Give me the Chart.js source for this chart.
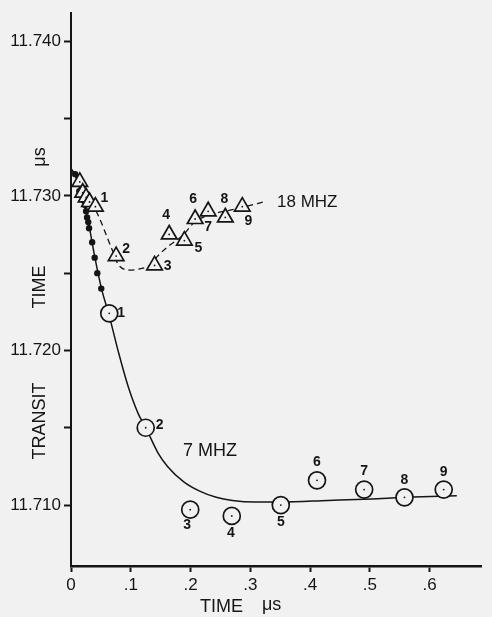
<!DOCTYPE html>
<html><head><meta charset="utf-8">
<script src="https://cdn.jsdelivr.net/npm/chart.js@4/dist/chart.umd.min.js"></script>
<style>html,body{margin:0;padding:0;background:#f1f1f1;}canvas{display:block;}</style>
</head><body>
<canvas id="c" width="492" height="617"></canvas>
<script>
// ---- data ----
const xTicks = [0, 0.1, 0.2, 0.3, 0.4, 0.5, 0.6];
const xTickLabels = ['0', '.1', '.2', '.3', '.4', '.5', '.6'];
const yTicks = [11.710, 11.715, 11.720, 11.725, 11.730, 11.735, 11.740];
const yTickLabels = ['11.710', '', '11.720', '', '11.730', '', '11.740'];

// 7 MHz measured points (circles)
const circ7X = [0.064, 0.125, 0.1995, 0.269, 0.351, 0.4116, 0.4905, 0.558, 0.6236];
const circ7Y = [11.7224, 11.7150, 11.7097, 11.7093, 11.7100, 11.7116, 11.7110, 11.7105, 11.7110];
const circ7Labels = ['1', '2', '3', '4', '5', '6', '7', '8', '9'];

// small filled dots on the steep part of the 7 MHz curve
const dots7X = [0.0070, 0.0106, 0.0139, 0.0179, 0.0212, 0.0236, 0.0253, 0.0269, 0.0289, 0.0302, 0.0354, 0.0396, 0.0440, 0.0506];
const dots7Y = [11.7314, 11.7308, 11.7303, 11.7300, 11.7297, 11.7294, 11.7290, 11.7286, 11.7283, 11.7279, 11.7270, 11.7260, 11.7250, 11.7240];

// 7 MHz solid curve
const curve7X = [0, 0.007, 0.018, 0.029, 0.040, 0.051, 0.0636, 0.080, 0.0962, 0.1126, 0.1251, 0.1452, 0.1615, 0.1887, 0.2153, 0.243, 0.270, 0.308, 0.351, 0.43, 0.504, 0.558, 0.6455];
const curve7Y = [11.7317, 11.7313, 11.7300, 11.7283, 11.7260, 11.7240, 11.7223, 11.7198, 11.7176, 11.7159, 11.7150, 11.7134, 11.7125, 11.7115, 11.7109, 11.7105, 11.7103, 11.7102, 11.7102, 11.7103, 11.7104, 11.7105, 11.7106];

// 18 MHz measured points (triangles)
const tri18X = [0.0147, 0.0196, 0.0253, 0.031, 0.0408, 0.0755, 0.1398, 0.1643, 0.1897, 0.2077, 0.2295, 0.2582, 0.2866];
const tri18Y = [11.7309, 11.7302, 11.7299, 11.7296, 11.7293, 11.7261, 11.7255, 11.7275, 11.7271, 11.7285, 11.7290, 11.7286, 11.7293];
const tri18Labels = ['', '', '', '', '1', '2', '3', '4', '5', '6', '7', '8', '9'];

// 18 MHz dashed curve
const curve18X = [0, 0.0147, 0.031, 0.0408, 0.069, 0.080, 0.099, 0.118, 0.1316, 0.145, 0.1615, 0.186, 0.207, 0.235, 0.270, 0.292, 0.322];
const curve18Y = [11.7318, 11.7309, 11.7296, 11.7291, 11.7265, 11.7255, 11.7252, 11.7253, 11.7255, 11.7261, 11.7267, 11.7274, 11.7283, 11.7288, 11.7291, 11.7293, 11.7296];

// label placement (pixel offsets from each marker centre)
const circ7LabelOffsets = [[12,0],[14,-3],[-3,15],[-1,17],[0,17],[0,-18],[0,-18],[0,-17],[0,-17]];
const tri18LabelOffsets = [[0,0],[0,0],[0,0],[0,0],[9,-9],[10,-7],[13,1],[-3,-19],[14,7],[-2,-20],[0,16],[-1,-18],[6,14]];

const zip = (xs, ys) => xs.map((x, i) => ({x, y: ys[i]}));
const INK = '#151515';
const BG = '#f1f1f1';

const labelPlugin = {
  id: 'labels',
  afterDatasetsDraw(chart) {
    const ctx = chart.ctx;
    ctx.save();
    ctx.fillStyle = INK;
    ctx.textAlign = 'center';
    ctx.textBaseline = 'middle';
    ctx.font = 'bold 14px "Liberation Sans", Arial, sans-serif';
    const draw = (dsIndex, labels, offs) => {
      chart.getDatasetMeta(dsIndex).data.forEach((el, i) => {
        if (!labels[i]) return;
        ctx.fillText(labels[i], el.x + offs[i][0], el.y + offs[i][1]);
      });
    };
    draw(0, circ7Labels, circ7LabelOffsets);
    draw(2, tri18Labels, tri18LabelOffsets);

    ctx.font = '18px "Liberation Sans", Arial, sans-serif';
    ctx.textAlign = 'left';
    ctx.fillText('7 MHZ', 183, 451);
    ctx.font = '17px "Liberation Sans", Arial, sans-serif';
    ctx.fillText('18 MHZ', 277, 202);
    // axis titles
    ctx.font = '18px "Liberation Sans", Arial, sans-serif';
    ctx.textBaseline = 'middle';
    ctx.fillText('TIME', 200, 607);
    ctx.fillText('\u03bcs', 262, 605);
    ctx.textAlign = 'center';
    const vt = (t, y) => { ctx.save(); ctx.translate(40, y); ctx.rotate(-Math.PI / 2); ctx.fillText(t, 0, 0); ctx.restore(); };
    vt('\u03bcs', 157);
    vt('TIME', 287);
    vt('TRANSIT', 421);
    ctx.restore();
  }
};

new Chart(document.getElementById('c'), {
  type: 'scatter',
  data: {
    datasets: [
      { // 0: circles
        data: zip(circ7X, circ7Y), pointStyle: 'circle', pointRadius: 8.5, pointHoverRadius: 8.5,
        pointBackgroundColor: BG, pointBorderColor: INK, pointBorderWidth: 1.7, showLine: false, order: 1
      },
      { // 1: circle centre dots
        data: zip(circ7X, circ7Y), pointStyle: 'circle', pointRadius: 0.9, pointBackgroundColor: INK,
        pointBorderWidth: 0, showLine: false, order: 0
      },
      { // 2: triangles
        data: zip(tri18X, tri18Y), pointStyle: 'triangle', pointRadius: 9, pointHoverRadius: 9,
        pointBackgroundColor: BG, pointBorderColor: INK, pointBorderWidth: 1.7, showLine: false, order: 1
      },
      { // 3: triangle centre dots
        data: zip(tri18X, tri18Y), pointStyle: 'circle', pointRadius: 0.9, pointBackgroundColor: INK,
        pointBorderWidth: 0, showLine: false, order: 0
      },
      { // 4: filled dots
        data: zip(dots7X, dots7Y), pointStyle: 'circle', pointRadius: 3.2, pointBackgroundColor: INK,
        pointBorderWidth: 0, showLine: false, order: 2
      },
      { // 5: solid 7 MHz curve
        data: zip(curve7X, curve7Y), showLine: true, pointRadius: 0, borderColor: INK, borderWidth: 1.5,
        cubicInterpolationMode: 'monotone', order: 5
      },
      { // 6: dashed 18 MHz curve
        data: zip(curve18X, curve18Y), showLine: true, pointRadius: 0, borderColor: INK, borderWidth: 1.3,
        borderDash: [6, 4], cubicInterpolationMode: 'monotone', order: 5
      }
    ]
  },
  options: {
    responsive: false,
    animation: false,
    events: [],
    layout: { padding: { top: 13, right: 0, left: 0, bottom: 0 } },
    plugins: { legend: { display: false }, tooltip: { enabled: false } },
    scales: {
      x: {
        type: 'linear', min: 0, max: 0.6865,
        afterBuildTicks: s => { s.ticks = xTicks.map(v => ({value: v})); },
        afterFit: s => { s.height = 51; },
        ticks: {
          callback: v => xTickLabels[xTicks.findIndex(t => Math.abs(t - v) < 1e-6)] ?? '',
          color: INK, font: { size: 17, family: '"Liberation Sans", Arial, sans-serif' },
          padding: 3, maxRotation: 0, autoSkip: false
        },
        grid: { drawOnChartArea: false, drawTicks: true, tickLength: 6, tickWidth: 2, tickColor: INK },
        border: { display: true, color: INK, width: 2.5 }
      },
      y: {
        type: 'linear', min: 11.70606, max: 11.74181,
        afterBuildTicks: s => { s.ticks = yTicks.map(v => ({value: v})); },
        afterFit: s => { s.width = 71; },
        ticks: {
          callback: v => yTickLabels[yTicks.findIndex(t => Math.abs(t - v) < 1e-7)] ?? '',
          color: INK, font: { size: 17, family: '"Liberation Sans", Arial, sans-serif' },
          padding: 3, autoSkip: false
        },
        grid: { drawOnChartArea: false, drawTicks: true, tickLength: 7, tickWidth: 2, tickColor: INK },
        border: { display: true, color: INK, width: 2 }
      }
    }
  },
  plugins: [labelPlugin]
});
</script>
</body></html>
